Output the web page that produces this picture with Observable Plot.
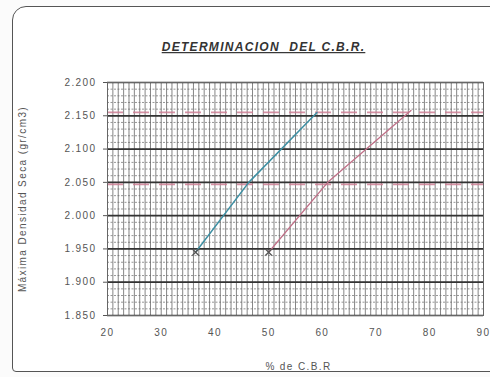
<!DOCTYPE html>
<html><head><meta charset="utf-8">
<script src="https://cdn.jsdelivr.net/npm/d3@7"></script>
<script src="https://cdn.jsdelivr.net/npm/@observablehq/plot@0.6"></script>
<style>
html,body{margin:0;padding:0;background:#fff;}
#wrap{position:relative;width:490px;height:377px;overflow:hidden;background:#fbfbfb;}
#border{position:absolute;left:12px;top:6px;width:490px;height:364px;border:1.6px solid #555;border-top-left-radius:14px;border-bottom-left-radius:4px;background:#fff;}
#chart{position:absolute;left:0;top:0;}
</style></head>
<body>
<div id="wrap"><div id="border"></div><div id="chart"></div></div>
<script>
const title = "DETERMINACION  DEL C.B.R.";
const xLabel = "% de C.B.R";
const yLabel = "Máxima Densidad Seca (gr/cm3)";
const xTicks = [20, 30, 40, 50, 60, 70, 80, 90];
const yTicks = [1.85, 1.9, 1.95, 2.0, 2.05, 2.1, 2.15, 2.2];
const blueCBR = [36.4, 46.3, 59.0];
const blueDens = [1.945, 2.05, 2.155];
const redCBR = [50.0, 61.0, 76.5];
const redDens = [1.945, 2.05, 2.158];
const refDens = [2.155, 2.047];

const blue = blueCBR.map((x, i) => ({x, y: blueDens[i]}));
const red = redCBR.map((x, i) => ({x, y: redDens[i]}));
const starts = [blue[0], red[0]];

const vGrid = d3.range(20, 90.01, 1);
const hMinor = d3.range(1.85, 2.2001, 0.01);

const fmt = d => d.toFixed(3);

const plot = Plot.plot({
  width: 490, height: 377,
  marginLeft: 107, marginRight: 7, marginTop: 82, marginBottom: 62,
  style: {fontFamily: "Liberation Sans, Arial, sans-serif", fontSize: "10px", background: "transparent", color: "#555", letterSpacing: "1.4px"},
  x: {domain: [20, 90], ticks: xTicks, tickSize: 0, tickPadding: 13, label: null, tickFormat: d => String(d)},
  y: {domain: [1.85, 2.2], ticks: yTicks, tickFormat: fmt, tickSize: 4, tickPadding: 7, label: null},
  marks: [
    Plot.ruleY(hMinor, {stroke: "#8a8a8a", strokeWidth: 0.9, strokeDasharray: "2,1.5"}),
    Plot.ruleX(vGrid, {stroke: "#666", strokeWidth: 1, strokeOpacity: 0.8}),
    Plot.ruleY(yTicks, {stroke: "#333", strokeWidth: 1.7}),
    Plot.ruleY(refDens, {stroke: "#cf7f95", strokeWidth: 1.8, strokeDasharray: "16,10", strokeOpacity: 0.85}),
    Plot.line(blue, {x: "x", y: "y", stroke: "#3d8fa3", strokeWidth: 1.5}),
    Plot.line(red, {x: "x", y: "y", stroke: "#c07088", strokeWidth: 1.3}),
    Plot.dot(starts, {x: "x", y: "y", symbol: "times", r: 3, stroke: "#555", strokeWidth: 1.3}),
    Plot.frame({stroke: "#666", strokeWidth: 1}),
    Plot.text([title], {frameAnchor: "top", dx: -32, dy: -40, text: d => d, fontSize: 12, fontWeight: "bold", fontStyle: "italic", fill: "#333"}),
    Plot.text([xLabel], {frameAnchor: "bottom", dx: 3, dy: 54, text: d => d, fontSize: 10, fill: "#555"}),
    Plot.text([yLabel], {frameAnchor: "left", dx: -85, rotate: -90, textAnchor: "middle", text: d => d, fontSize: 10, fill: "#555"})
  ]
});
plot.querySelectorAll("text").forEach(t => {
  if (t.textContent === title) {
    t.setAttribute("text-decoration", "underline");
    t.setAttribute("xml:space", "preserve");
    t.style.whiteSpace = "pre";
    t.style.letterSpacing = "1.3px";
  }
});
document.getElementById("chart").appendChild(plot);
</script>
</body></html>
